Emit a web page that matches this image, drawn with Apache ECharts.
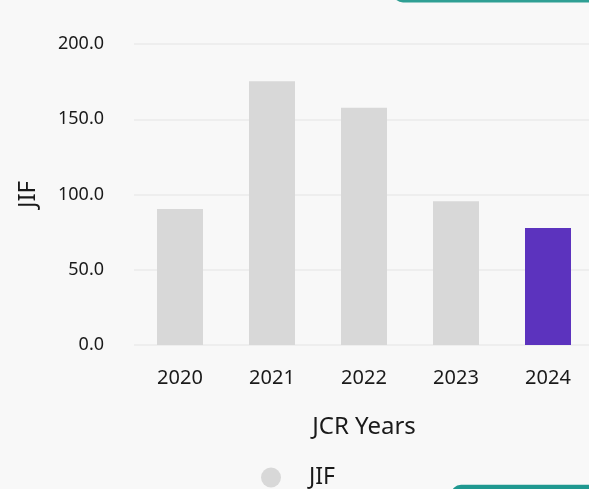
<!DOCTYPE html>
<html>
<head>
<meta charset="utf-8">
<script src="https://cdn.jsdelivr.net/npm/echarts@6/dist/echarts.min.js"></script>
<style>
html,body{margin:0;padding:0;background:#f8f8f8;overflow:hidden;width:589px;height:489px;}
#chart{width:595px;height:489px;}
</style>
</head>
<body>
<div id="chart"></div>
<script>
const years = ['2020', '2021', '2022', '2023', '2024'];
const jifValues = [90.4, 175.3, 157.6, 95.5, 77.8];
const yTicks = { min: 0, max: 200, interval: 50 };
const highlightYear = '2024';

const chart = echarts.init(document.getElementById('chart'));
const fontFamily = '"Noto Sans", "Open Sans", sans-serif';
const textColor = '#1a1a1a';
chart.setOption({
  backgroundColor: '#f8f8f8',
  animation: false,
  textStyle: { fontFamily: fontFamily },
  grid: { left: 134, right: 1, top: 44, bottom: 144, containLabel: false },
  legend: {
    data: ['JIF'],
    left: 256,
    top: 461,
    icon: 'circle',
    itemWidth: 66,
    itemHeight: 20,
    textStyle: { fontSize: 23, color: textColor, fontFamily: fontFamily }
  },
  xAxis: {
    type: 'category',
    data: years,
    name: 'JCR Years',
    nameLocation: 'middle',
    nameGap: 70,
    nameTextStyle: { fontSize: 24, color: textColor, fontFamily: fontFamily },
    axisLine: { show: false },
    axisTick: { show: false },
    axisLabel: { fontSize: 20, color: textColor, margin: 23, fontFamily: fontFamily }
  },
  yAxis: {
    type: 'value',
    min: yTicks.min,
    max: yTicks.max,
    interval: yTicks.interval,
    name: 'JIF',
    nameLocation: 'middle',
    nameGap: 94,
    nameTextStyle: { fontSize: 24, color: textColor, fontFamily: fontFamily },
    axisLine: { show: false },
    axisTick: { show: false },
    splitLine: { lineStyle: { color: '#ebebeb', width: 1.5 } },
    axisLabel: {
      fontSize: 18, color: textColor, margin: 30, fontFamily: fontFamily,
      formatter: v => v.toFixed(1)
    }
  },
  series: [{
    name: 'JIF',
    type: 'bar',
    barWidth: '50%',
    itemStyle: { color: '#d8d8d8' },
    data: years.map((y, i) => ({
      value: jifValues[i],
      itemStyle: y === highlightYear ? { color: '#5c33be' } : undefined
    }))
  }],
  graphic: [
    { type: 'rect', silent: true, shape: { x: 393, y: -20, width: 220, height: 22.5, r: 10 }, style: { fill: '#2f9f94' } },
    { type: 'rect', silent: true, shape: { x: 451, y: 484.7, width: 200, height: 30, r: 10 }, style: { fill: '#1f9890' } }
  ]
});
</script>
</body>
</html>
